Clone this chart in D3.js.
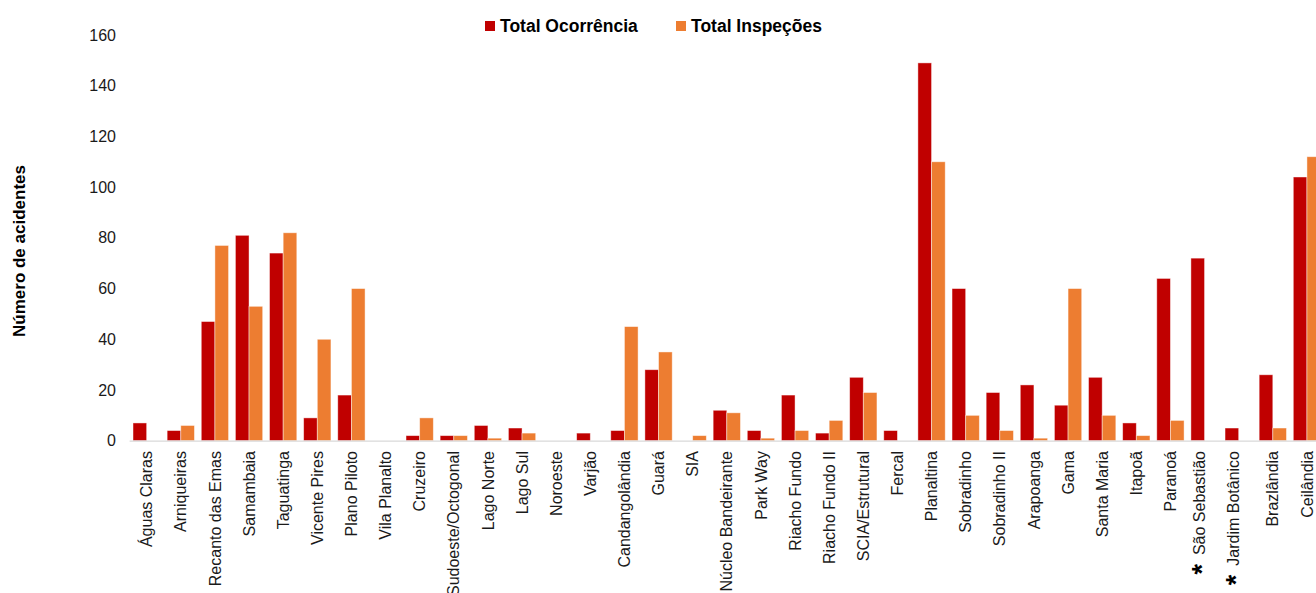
<!DOCTYPE html>
<html>
<head>
<meta charset="utf-8">
<script src="https://cdn.jsdelivr.net/npm/d3@7"></script>
<style>
  html, body { margin: 0; padding: 0; background: #fff; }
  svg { display: block; font-family: "Liberation Sans", Arial, sans-serif; }
</style>
</head>
<body>
<svg id="chart" width="1316" height="593"></svg>
<script>
// Regiões administrativas (eixo X)
const regioes = [
  "Águas Claras", "Arniqueiras", "Recanto das Emas", "Samambaia", "Taguatinga",
  "Vicente Pires", "Plano Piloto", "Vila Planalto", "Cruzeiro", "Sudoeste/Octogonal",
  "Lago Norte", "Lago Sul", "Noroeste", "Varjão", "Candangolândia",
  "Guará", "SIA", "Núcleo Bandeirante", "Park Way", "Riacho Fundo",
  "Riacho Fundo II", "SCIA/Estrutural", "Fercal", "Planaltina", "Sobradinho",
  "Sobradinho II", "Arapoanga", "Gama", "Santa Maria", "Itapoã",
  "Paranoá", "São Sebastião", "Jardim Botânico", "Brazlândia", "Ceilândia"
];

// Regiões marcadas com asterisco
const marcadas = ["São Sebastião", "Jardim Botânico"];

const totalOcorrencia = [
  7, 4, 47, 81, 74,
  9, 18, 0, 2, 2,
  6, 5, 0, 3, 4,
  28, 0, 12, 4, 18,
  3, 25, 4, 149, 60,
  19, 22, 14, 25, 7,
  64, 72, 5, 26, 104
];

const totalInspecoes = [
  0, 6, 77, 53, 82,
  40, 60, 0, 9, 2,
  1, 3, 0, 0, 45,
  35, 2, 11, 1, 4,
  8, 19, 0, 110, 10,
  4, 1, 60, 10, 2,
  8, 0, 0, 5, 112
];

const yTicks = [0, 20, 40, 60, 80, 100, 120, 140, 160];

const series = [
  { name: "Total Ocorrência", values: totalOcorrencia, color: "#C00000" },
  { name: "Total Inspeções", values: totalInspecoes, color: "#ED7D31" }
];

const svg = d3.select("#chart");

const x = d3.scaleBand()
  .domain(regioes)
  .range([129.6, 1324])
  .paddingInner(0.2)
  .paddingOuter(0.1);

const xs = d3.scaleBand()
  .domain(series.map(s => s.name))
  .range([0, x.bandwidth()])
  .padding(0);

const y = d3.scaleLinear()
  .domain([0, 160])
  .range([440.7, 35]);

// Eixo Y: apenas rótulos
const yAxis = svg.append("g")
  .attr("transform", "translate(116,0)")
  .call(d3.axisLeft(y).tickValues(yTicks).tickSize(0).tickPadding(0));
yAxis.select(".domain").remove();
yAxis.selectAll("text")
  .attr("font-size", 16)
  .attr("fill", "#1a1a1a")
  .attr("font-family", "'Liberation Sans', Arial, sans-serif");

// Título do eixo Y
svg.append("text")
  .attr("transform", "translate(25,251) rotate(-90)")
  .attr("text-anchor", "middle")
  .attr("font-size", 17)
  .attr("font-weight", "bold")
  .attr("fill", "#000")
  .text("Número de acidentes");

// Barras
const groups = svg.append("g")
  .selectAll("g")
  .data(regioes)
  .join("g")
  .attr("transform", d => `translate(${x(d)},0)`);

series.forEach(s => {
  groups.append("rect")
    .attr("x", xs(s.name))
    .attr("width", xs.bandwidth())
    .attr("y", (d, i) => y(s.values[i]))
    .attr("height", (d, i) => y(0) - y(s.values[i]))
    .attr("fill", s.color)
    .attr("stroke", "rgba(255,255,255,0.55)")
    .attr("stroke-width", 0.8);
});

// Linha de base
svg.append("line")
  .attr("x1", 129.6).attr("x2", 1316)
  .attr("y1", y(0) + 0.5).attr("y2", y(0) + 0.5)
  .attr("stroke", "#d9d9d9")
  .attr("stroke-width", 1.2);

// Rótulos das categorias (verticais)
const labels = svg.append("g")
  .selectAll("text")
  .data(regioes)
  .join("text")
  .attr("transform", d => `translate(${x(d) + x.bandwidth() / 2},451) rotate(-90)`)
  .attr("text-anchor", "end")
  .attr("dy", "0.35em")
  .attr("font-size", 16)
  .attr("fill", "#1a1a1a");

labels.each(function(d) {
  const t = d3.select(this);
  if (marcadas.includes(d)) {
    t.append("tspan")
      .attr("font-size", 27)
      .attr("font-weight", "bold")
      .attr("fill", "#000")
      .attr("dy", 6)
      .text("*");
    t.append("tspan").text("\u00a0\u00a0").attr("dy", -6);
    t.append("tspan").text(d);
  } else {
    t.text(d);
  }
});

// Legenda
const legend = svg.append("g");
const legendItems = [
  { s: series[0], x: 485 },
  { s: series[1], x: 676 }
];
legendItems.forEach(item => {
  legend.append("rect")
    .attr("x", item.x).attr("y", 21)
    .attr("width", 10).attr("height", 10)
    .attr("fill", item.s.color);
  legend.append("text")
    .attr("x", item.x + 15).attr("y", 32)
    .attr("font-size", 17.5)
    .attr("font-weight", "bold")
    .attr("fill", "#000")
    .text(item.s.name);
});
</script>
</body>
</html>
